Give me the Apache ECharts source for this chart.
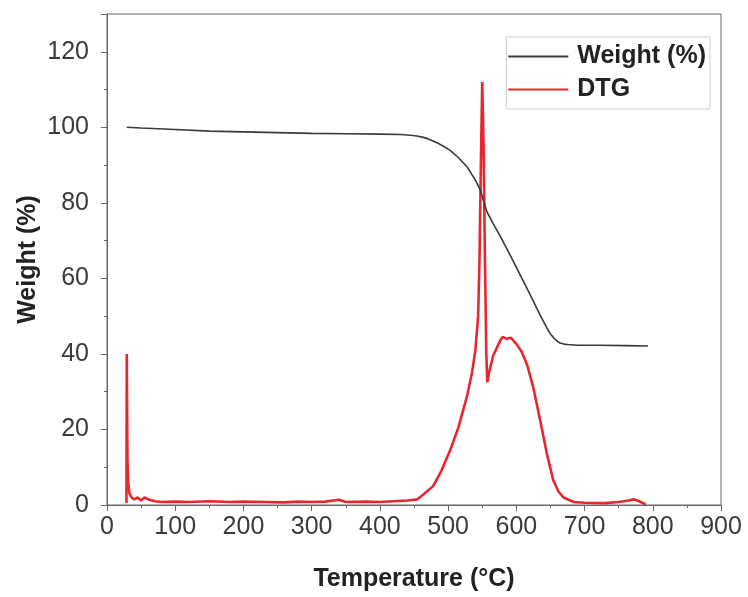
<!DOCTYPE html>
<html>
<head>
<meta charset="utf-8">
<script src="https://cdn.jsdelivr.net/npm/echarts@6/dist/echarts.min.js"></script>
<style>
  html, body { margin: 0; padding: 0; background: #fff; }
  #chart { width: 748px; height: 597px; }
</style>
</head>
<body>
<div id="chart"></div>
<script>
// TGA run: residual weight and derivative (DTG) versus temperature
const weightTemp = [29, 50, 100, 150, 200, 250, 300, 350, 400, 430, 445, 454, 462, 470, 478, 485, 493, 503, 515, 528, 540, 547, 552, 557, 566, 576, 590, 601, 613, 625, 635, 645, 650, 655, 660, 664, 670, 675, 690, 720, 760, 793];
const weightPct  = [100, 99.8, 99.4, 99.0, 98.8, 98.6, 98.4, 98.3, 98.2, 98.1, 97.9, 97.7, 97.4, 97.0, 96.4, 95.8, 95.0, 93.9, 92.0, 89.5, 86.0, 83.5, 80.5, 77.6, 74.5, 71.3, 66.5, 62.6, 58.3, 54.0, 50.2, 46.8, 45.3, 44.2, 43.4, 42.9, 42.6, 42.5, 42.3, 42.3, 42.2, 42.1];

const dtgTemp = [28.5, 29, 30, 31, 33, 36, 40, 45, 50, 55, 60, 70, 80, 100, 120, 150, 180, 200, 230, 260, 280, 300, 320, 340, 350, 380, 400, 420, 440, 455, 465, 478, 490, 503, 515, 528, 535, 540, 544, 546, 548, 550, 552, 554, 556, 557.5, 560, 566, 576, 580, 586, 592, 601, 608, 616, 625, 635, 645, 654, 662, 669, 684, 700, 730, 750, 765, 772, 780, 788, 790];
const dtgVal  = [0.5, 40, 12, 6, 3, 2, 1.5, 2, 1.2, 2, 1.5, 1, 0.8, 0.9, 0.8, 1, 0.8, 0.9, 0.8, 0.7, 0.9, 0.8, 0.9, 1.4, 0.8, 0.9, 0.8, 1, 1.2, 1.5, 3, 5, 9, 14.5, 20.5, 29, 35, 41, 50, 65, 90, 112, 95, 65, 40, 32.5, 35, 39.5, 43.4, 44.5, 44, 44.3, 42.4, 40.5, 37, 31, 22.4, 13.4, 6.6, 3.5, 2, 0.8, 0.6, 0.5, 0.8, 1.2, 1.5, 1.0, 0.3, 0.2];

const xTicks = { min: 0, max: 900, step: 100 };
const yTicks = { min: 0, max: 130, step: 20 };

const pair = (xs, ys) => xs.map((x, i) => [x, ys[i]]);

const font = 'Liberation Sans, Arial, sans-serif';
const axisGray = '#666';
const labelSize = 25;

const chart = echarts.init(document.getElementById('chart'));
chart.setOption({
  animation: false,
  backgroundColor: '#fff',
  grid: {
    left: 107, right: 27, top: 14, bottom: 89,
    show: true, borderColor: axisGray, borderWidth: 1, backgroundColor: 'transparent'
  },
  legend: {
    orient: 'vertical',
    right: 38, top: 37,
    icon: 'rect',
    itemWidth: 60, itemHeight: 2, itemGap: 8,
    padding: [7, 4, 7, 2],
    borderColor: '#cfcfcf', borderWidth: 1,
    textStyle: { fontFamily: font, fontSize: labelSize, fontWeight: 'bold', color: '#222', padding: [0, 0, 0, 4] },
    data: ['Weight (%)', 'DTG']
  },
  xAxis: {
    type: 'value',
    min: xTicks.min, max: xTicks.max, interval: xTicks.step,
    name: 'Temperature (°C)', nameLocation: 'middle', nameGap: 62, nameMoveOverlap: false,
    nameTextStyle: { fontFamily: font, fontSize: labelSize, fontWeight: 'bold', color: '#222' },
    axisLine: { show: true, lineStyle: { color: axisGray, width: 1 } },
    axisTick: { show: true, inside: false, length: 6, lineStyle: { color: axisGray } },
    minorTick: { show: true, splitNumber: 2, length: 3, lineStyle: { color: axisGray } },
    splitLine: { show: false },
    axisLabel: { fontFamily: font, fontSize: labelSize, color: '#3a3a3a', margin: 10 }
  },
  yAxis: {
    type: 'value',
    min: yTicks.min, max: yTicks.max, interval: yTicks.step,
    name: 'Weight (%)', nameLocation: 'middle', nameGap: 66, nameMoveOverlap: false,
    nameTextStyle: { fontFamily: font, fontSize: labelSize, fontWeight: 'bold', color: '#222' },
    axisLine: { show: true, lineStyle: { color: axisGray, width: 1 } },
    axisTick: { show: true, inside: false, length: 6, lineStyle: { color: axisGray } },
    minorTick: { show: true, splitNumber: 2, length: 3, lineStyle: { color: axisGray } },
    splitLine: { show: false },
    axisLabel: { fontFamily: font, fontSize: labelSize, color: '#3a3a3a', margin: 18, showMaxLabel: false }
  },
  series: [
    {
      name: 'Weight (%)', type: 'line', symbol: 'none',
      lineStyle: { color: '#3a3a3a', width: 1.6 },
      itemStyle: { color: '#3a3a3a' },
      data: pair(weightTemp, weightPct), z: 3
    },
    {
      name: 'DTG', type: 'line', symbol: 'none',
      lineStyle: { color: '#e8262c', width: 2.6 },
      itemStyle: { color: '#e8262c' },
      data: pair(dtgTemp, dtgVal), z: 2
    }
  ]
});
</script>
</body>
</html>
